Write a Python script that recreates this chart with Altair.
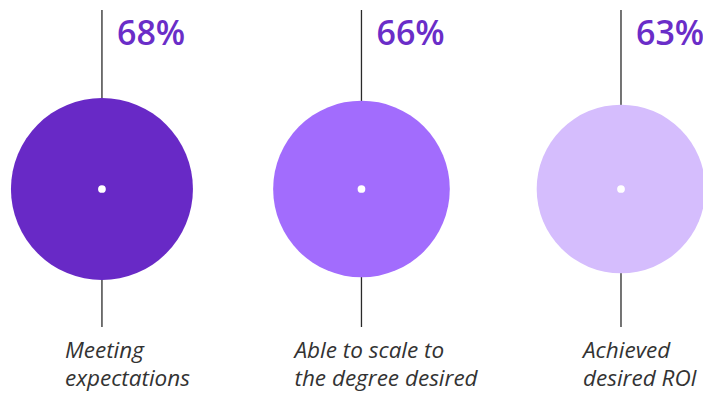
import altair as alt
import pandas as pd

categories = ["Meeting\nexpectations", "Able to scale to\nthe degree desired", "Achieved\ndesired ROI"]
values = [68, 66, 63]
colors = ["#6829c6", "#a26cfd", "#d5bdfd"]
label_dx = [-37, -67, -38]

df = pd.DataFrame({
    "idx": [0, 1, 2],
    "cat": categories,
    "value": values,
    "pct": [f"{v}%" for v in values],
    "color": colors,
})

W, H = 695, 388
x = alt.X("idx:Q", scale=alt.Scale(domain=[-0.362, 2.316]), axis=None)
r_full = 91 / 68 * 100
# Vega circle symbol: radius = sqrt(size) / 2
size_scale = alt.Scale(type="pow", exponent=2, domain=[0, 100], range=[0, (2 * r_full) ** 2])

base = alt.Chart(df)

circles = base.mark_circle(opacity=1).encode(
    x=x,
    y=alt.value(181),
    size=alt.Size("value:Q", scale=size_scale, legend=None),
    color=alt.Color("color:N", scale=None),
)

rules = base.mark_rule(color="#2a2a2a", strokeWidth=1.3).encode(
    x=x, y=alt.value(2), y2=alt.value(319)
)

dots = base.mark_circle(color="white", opacity=1, size=60).encode(
    x=x, y=alt.value(181)
)

pcts = base.mark_text(
    align="left", baseline="alphabetic", dx=15, fontSize=34, fontWeight=600,
    font="Open Sans", color="#6a2dc8"
).encode(x=x, y=alt.value(37), text="pct:N")

label_layers = []
for i, c in enumerate(categories):
    label_layers.append(
        base.transform_filter(alt.datum.idx == i).mark_text(
            align="left", baseline="alphabetic", dx=label_dx[i], fontSize=22.5,
            fontStyle="italic", font="Open Sans", color="#333333",
            lineBreak="\n", lineHeight=28,
        ).encode(x=x, y=alt.value(350), text="cat:N")
    )

chart = alt.layer(rules, circles, dots, pcts, *label_layers).properties(
    width=W, height=H, padding=0, autosize=alt.AutoSizeParams(type="none")
).configure_view(stroke=None)

chart.save("out.html", embed_options={"renderer": "svg", "actions": False})
